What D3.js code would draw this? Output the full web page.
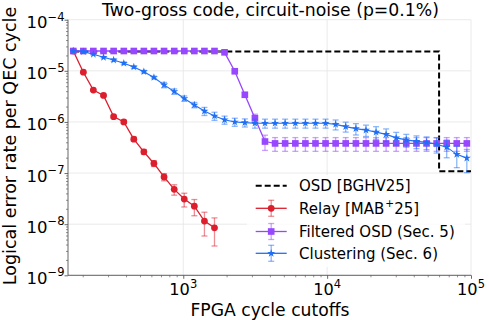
<!DOCTYPE html>
<html><head><meta charset="utf-8">
<script src="https://cdn.jsdelivr.net/npm/d3@7"></script>
<style>body{margin:0;background:#fff} svg{display:block} text{font-family:"DejaVu Sans",sans-serif;fill:#000}</style>
</head><body><svg id="c" width="489" height="320"></svg>
<script>
// ---- data ----
const cutoffs = [172, 202, 237, 279, 328, 386, 453, 532, 625, 735, 865, 1016, 1194, 1403, 1648, 1936, 2280, 2679, 3148, 3698,
                 4345, 5105, 6012, 7063, 8299, 9750, 11455, 13459, 15849, 18621, 21878, 25704, 30200, 35481, 41783, 49091, 57677, 67764, 79616, 93541];
const relayRate = [2.44e-5, 9.4e-6, 4.2e-6, 3.3e-6, 1.27e-6, 1.0e-6, 4.6e-7, 2.6e-7, 1.54e-7, 8.4e-8, 4.8e-8, 3.1e-8, 2.25e-8, 1.15e-8, 8.5e-9];
const relayErr  = [0.02, 0.03, 0.04, 0.05, 0.06, 0.07, 0.09, 0.11, 0.13, 0.16, 0.23, 0.3, 0.35, 0.49, 0.56];
const filteredRate = [2.44e-5, 2.44e-5, 2.44e-5, 2.44e-5, 2.44e-5, 2.44e-5, 2.44e-5, 2.44e-5, 2.44e-5, 2.44e-5,
                      2.44e-5, 2.44e-5, 2.44e-5, 2.44e-5, 2.44e-5, 2.3e-5, 9.8e-6, 3.4e-6, 1.18e-6, 4.14e-7,
                      3.8e-7, 3.8e-7, 3.8e-7, 3.8e-7, 3.8e-7, 3.8e-7, 3.8e-7, 3.8e-7, 3.8e-7, 3.8e-7,
                      3.8e-7, 3.8e-7, 3.8e-7, 3.8e-7, 3.8e-7, 3.8e-7, 3.8e-7, 3.8e-7, 3.8e-7, 3.8e-7];
const filteredErr = [0.02, 0.02, 0.02, 0.02, 0.02, 0.02, 0.02, 0.02, 0.02, 0.02, 0.02, 0.02, 0.02, 0.02, 0.02, 0.03, 0.05, 0.1, 0.2, 0.33,
                     0.3, 0.3, 0.3, 0.3, 0.3, 0.3, 0.3, 0.3, 0.3, 0.3, 0.3, 0.3, 0.3, 0.3, 0.3, 0.3, 0.3, 0.3, 0.3, 0.3];
const clusterRate = [2.44e-5, 2.37e-5, 2.11e-5, 1.84e-5, 1.63e-5, 1.41e-5, 1.19e-5, 9.63e-6, 7.42e-6, 5.3e-6,
                     3.95e-6, 2.88e-6, 2.15e-6, 1.63e-6, 1.31e-6, 1.1e-6, 1.0e-6, 9.71e-7, 9.45e-7, 9.45e-7,
                     9.45e-7, 9.45e-7, 9.45e-7, 9.45e-7, 9.45e-7, 9.45e-7, 8.95e-7, 8.11e-7, 7.41e-7, 6.93e-7,
                     6.31e-7, 5.71e-7, 4.88e-7, 4.46e-7, 4.17e-7, 3.98e-7, 3.67e-7, 3.21e-7, 2.32e-7, 1.96e-7];
const clusterErr = [0.03, 0.03, 0.03, 0.03, 0.06, 0.06, 0.06, 0.06, 0.06, 0.12, 0.12, 0.12, 0.12, 0.18, 0.18, 0.18, 0.18, 0.18, 0.2, 0.2,
                    0.2, 0.2, 0.2, 0.2, 0.2, 0.2, 0.22, 0.22, 0.25, 0.25, 0.28, 0.28, 0.28, 0.28, 0.28, 0.28, 0.33, 0.38, 0.45, 0.48];
const osdX = [172, 60000, 60000, 100000];
const osdRate = [2.4e-5, 2.4e-5, 1.08e-7, 1.08e-7];
const xMajor = [1e3, 1e4, 1e5];
const yMajor = [1e-9, 1e-8, 1e-7, 1e-6, 1e-5, 1e-4];
const xTickExp = ["3", "4", "5"];
const yTickExp = ["\u22129", "\u22128", "\u22127", "\u22126", "\u22125", "\u22124"];
const seriesNames = ["OSD [BGHV25]", "Relay [MAB", "Filtered OSD (Sec. 5)", "Clustering (Sec. 6)"];

// ---- layout ----
const svg = d3.select("#c");
const L = 68, R = 471, T = 19.7, B = 275.3;
const x = d3.scaleLog().domain([158, 1e5]).range([L, R]);
const y = d3.scaleLog().domain([1e-9, 1e-4]).range([B, T]);
const RED = "#dc1e2d", PURPLE = "#9747ff", BLUE = "#1f6ff5";

// grid
const grid = svg.append("g").attr("stroke", "#e4e4e4").attr("stroke-width", 0.8);
xMajor.forEach(v => grid.append("line").attr("x1", x(v)).attr("x2", x(v)).attr("y1", T).attr("y2", B));
yMajor.forEach(v => grid.append("line").attr("x1", L).attr("x2", R).attr("y1", y(v)).attr("y2", y(v)));

// minor tick values
const xMinor = [], yMinor = [];
[100, 1000, 10000].forEach(d => { for (let k = 2; k <= 9; k++) if (k * d >= 158) xMinor.push(k * d); });
[1e-9, 1e-8, 1e-7, 1e-6, 1e-5].forEach(d => { for (let k = 2; k <= 9; k++) yMinor.push(k * d); });

function styleAxis(g) {
  g.select(".domain").remove();
  g.selectAll(".tick line").attr("stroke", "#444");
}
svg.append("g").attr("transform", `translate(0,${B})`)
  .call(d3.axisBottom(x).tickValues(xMajor).tickSize(3.5).tickFormat(""))
  .call(styleAxis).selectAll(".tick line").attr("stroke-width", 0.8);
svg.append("g").attr("transform", `translate(0,${B})`)
  .call(d3.axisBottom(x).tickValues(xMinor).tickSize(2).tickFormat(""))
  .call(styleAxis).selectAll(".tick line").attr("stroke-width", 0.6);
svg.append("g").attr("transform", `translate(${L},0)`)
  .call(d3.axisLeft(y).tickValues(yMajor).tickSize(3.5).tickFormat(""))
  .call(styleAxis).selectAll(".tick line").attr("stroke-width", 0.8);
svg.append("g").attr("transform", `translate(${L},0)`)
  .call(d3.axisLeft(y).tickValues(yMinor).tickSize(2).tickFormat(""))
  .call(styleAxis).selectAll(".tick line").attr("stroke-width", 0.6);

// spines
svg.append("line").attr("x1", L).attr("x2", R).attr("y1", B).attr("y2", B).attr("stroke", "#555").attr("stroke-width", 0.9);
svg.append("line").attr("x1", L).attr("x2", L).attr("y1", T).attr("y2", B).attr("stroke", "#555").attr("stroke-width", 0.9);

// tick labels
xMajor.forEach((v, i) => {
  const t = svg.append("text").attr("x", x(v)).attr("y", 295.3).attr("text-anchor", "middle").attr("font-size", 16.2);
  t.append("tspan").text("10");
  t.append("tspan").attr("font-size", 11.5).attr("dy", -7.5).text(xTickExp[i]);
});
yMajor.forEach((v, i) => {
  const t = svg.append("text").attr("x", 64.5).attr("y", y(v) + 8.5).attr("text-anchor", "end").attr("font-size", 16.5);
  t.append("tspan").text("10");
  t.append("tspan").attr("font-size", 11.5).attr("dy", -7.5).text(yTickExp[i]);
});

// titles
svg.append("text").attr("x", 270.5).attr("y", 16).attr("text-anchor", "middle").attr("font-size", 17.3)
  .text("Two-gross code, circuit-noise (p=0.1%)");
svg.append("text").attr("x", 270).attr("y", 315.5).attr("text-anchor", "middle").attr("font-size", 17.2)
  .text("FPGA cycle cutoffs");
svg.append("text").attr("transform", "translate(16,146) rotate(-90)").attr("text-anchor", "middle").attr("font-size", 17.5)
  .text("Logical error rate per QEC cycle");

// OSD dashed
const line = d3.line().x(d => x(d[0])).y(d => y(d[1]));
svg.append("path").datum(osdX.map((v, i) => [v, osdRate[i]])).attr("d", line)
  .attr("fill", "none").attr("stroke", "#000").attr("stroke-width", 2).attr("stroke-dasharray", "6,3");

function drawSeries(rates, errs, color, symbol, lw) {
  const pts = rates.map((v, i) => [cutoffs[i], v, errs[i]]);
  const g = svg.append("g");
  const eb = g.append("g").attr("stroke", color).attr("stroke-opacity", 0.5).attr("stroke-width", 1.3);
  pts.forEach(p => {
    const cx = x(p[0]), y1 = y(p[1] * (1 + p[2])), y2 = y(p[1] * (1 - p[2]));
    eb.append("line").attr("x1", cx).attr("x2", cx).attr("y1", y1).attr("y2", y2);
    eb.append("line").attr("x1", cx - 3).attr("x2", cx + 3).attr("y1", y1).attr("y2", y1);
    eb.append("line").attr("x1", cx - 3).attr("x2", cx + 3).attr("y1", y2).attr("y2", y2);
  });
  g.append("path").datum(pts).attr("d", line).attr("fill", "none").attr("stroke", color).attr("stroke-width", lw);
  g.selectAll("path.m").data(pts).join("path").attr("class", "m")
    .attr("transform", p => `translate(${x(p[0])},${y(p[1])})`)
    .attr("d", symbol).attr("fill", color);
}
const circ = d3.symbol(d3.symbolCircle, 36)();
const sq = d3.symbol(d3.symbolSquare, 44)();
const star = d3.symbol(d3.symbolStar, 20)();
drawSeries(relayRate, relayErr, RED, circ, 1.3);
drawSeries(filteredRate, filteredErr, PURPLE, sq, 1.3);
drawSeries(clusterRate, clusterErr, BLUE, star, 1.1);

// legend
const lg = svg.append("g");
lg.append("rect").attr("x", 247).attr("y", 175).attr("width", 218).attr("height", 92).attr("rx", 3)
  .attr("fill", "#fff").attr("fill-opacity", 0.8);
const ly = [185.7, 208.3, 231.5, 253.3];
const hx1 = 255.7, hx2 = 286.7, hc = 271.2;
lg.append("line").attr("x1", hx1).attr("x2", hx2).attr("y1", ly[0]).attr("y2", ly[0])
  .attr("stroke", "#000").attr("stroke-width", 2).attr("stroke-dasharray", "6,3");
[[RED, circ], [PURPLE, sq], [BLUE, star]].forEach((s, i) => {
  const yy = ly[i + 1];
  const e = lg.append("g").attr("stroke", s[0]).attr("stroke-opacity", 0.5).attr("stroke-width", 1.3);
  e.append("line").attr("x1", hc).attr("x2", hc).attr("y1", yy - 8).attr("y2", yy + 8);
  e.append("line").attr("x1", hc - 3).attr("x2", hc + 3).attr("y1", yy - 8).attr("y2", yy - 8);
  e.append("line").attr("x1", hc - 3).attr("x2", hc + 3).attr("y1", yy + 8).attr("y2", yy + 8);
  lg.append("line").attr("x1", hx1).attr("x2", hx2).attr("y1", yy).attr("y2", yy).attr("stroke", s[0]).attr("stroke-width", 1.3);
  lg.append("path").attr("transform", `translate(${hc},${yy})`).attr("d", s[1]).attr("fill", s[0]);
});
seriesNames.forEach((n, i) => {
  const t = lg.append("text").attr("x", 299).attr("y", ly[i] + 5.5).attr("font-size", 15);
  t.append("tspan").text(n);
  if (i === 1) {
    t.append("tspan").attr("font-size", 10.5).attr("dy", -7).attr("dx", 1).text("+");
    t.append("tspan").attr("dy", 7).text("25]");
  }
});
</script></body></html>
